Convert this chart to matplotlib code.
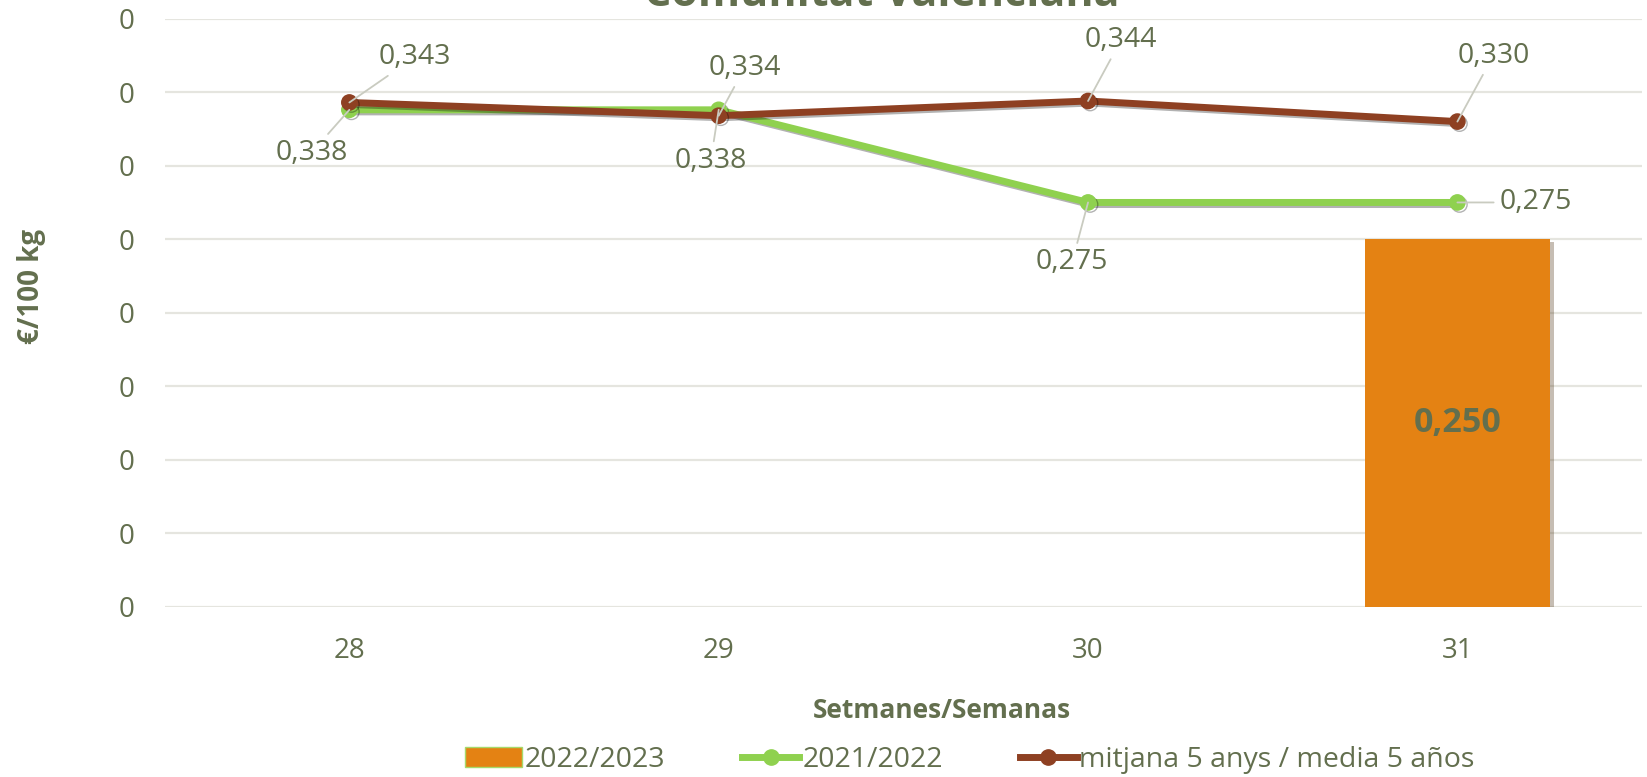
import numpy as np
import matplotlib
matplotlib.use("Agg")
import matplotlib.pyplot as plt
import matplotlib.patheffects as pe
from matplotlib.ticker import FuncFormatter, MultipleLocator
from matplotlib.lines import Line2D
from matplotlib.patches import Patch

weeks = ["28", "29", "30", "31"]
season_2223 = [np.nan, np.nan, np.nan, 0.250]
season_2122 = [0.338, 0.338, 0.275, 0.275]
avg_5y = [0.343, 0.334, 0.344, 0.330]

labels = ["2022/2023", "2021/2022", "mitjana 5 anys / media 5 años"]
title = "Comunitat Valenciana"
xlabel = "Setmanes/Semanas"
ylabel = "€/100 kg"

TXT = "#636f4e"
ORANGE = "#e48213"
GREEN = "#8fd14f"
BROWN = "#8e4022"
LEADER = "#c9cbc0"

plt.rcParams["font.family"] = ["Open Sans", "DejaVu Sans"]
plt.rcParams["xtick.labelsize"] = 20
plt.rcParams["ytick.labelsize"] = 20

fig = plt.figure(figsize=(16.47, 7.77), dpi=100)
ax = fig.add_axes([0.100, 0.219, 0.897, 0.757])
x = np.arange(len(weeks))

shadow = [pe.SimpleLineShadow(offset=(1.5, -1.5), alpha=0.3), pe.Normal()]

ax.bar(x, season_2223, width=0.5, color=ORANGE, zorder=2,
       path_effects=[pe.withSimplePatchShadow(offset=(3, -2), alpha=0.3)])
ax.plot(x, season_2122, color=GREEN, lw=5, marker="o", ms=11, zorder=3,
        path_effects=shadow)
ax.plot(x, avg_5y, color=BROWN, lw=5, marker="o", ms=11, zorder=4,
        path_effects=shadow)

# bar label
for xi, v in zip(x, season_2223):
    if not np.isnan(v):
        ax.text(xi, v / 2, f"{v:.3f}".replace(".", ","), ha="center", va="center",
                color=TXT, fontsize=24.5, fontweight="bold", zorder=5)

# line labels with leader lines (offsets in pixels)
green_off = [(-38, -43), (-8, -51), (-16, -60), (78, 0)]
brown_off = [(65, 45), (26, 48), (33, 61), (36, 66)]
for vals, offs in ((season_2122, green_off), (avg_5y, brown_off)):
    for xi, v, off in zip(x, vals, offs):
        ax.annotate(f"{v:.3f}".replace(".", ","), xy=(xi, v), xytext=off,
                    textcoords="offset pixels", ha="center", va="center",
                    color=TXT, fontsize=20.5, zorder=6,
                    arrowprops=dict(arrowstyle="-", color=LEADER, lw=1.3,
                                    shrinkA=2, shrinkB=0))

ax.set_xlim(-0.5, 3.5)
ax.set_ylim(0, 0.4)
ax.yaxis.set_major_locator(MultipleLocator(0.05))
ax.yaxis.set_major_formatter(FuncFormatter(lambda v, p: f"{v:.0f}"))
ax.set_xticks(x)
ax.set_xticklabels(weeks)
ax.grid(axis="y", color="#e5e5df", lw=1.6, zorder=0)
ax.set_axisbelow(True)
for s in ax.spines.values():
    s.set_visible(False)
ax.tick_params(axis="both", length=0, labelcolor=TXT)
ax.tick_params(axis="y", pad=22)
ax.tick_params(axis="x", pad=22)

fig.text(942 / 1647, 1 - 711 / 777, xlabel, ha="center", va="center",
         color=TXT, fontsize=19, fontweight="bold")
fig.text(32 / 1647, 1 - 286 / 777, ylabel, ha="center", va="center", rotation=90,
         color=TXT, fontsize=20, fontweight="bold")
fig.text(882 / 1647, 1 - 6 / 777, title, ha="center", va="baseline",
         color=TXT, fontsize=31, fontweight="bold")

handles = [
    Patch(facecolor=ORANGE, edgecolor="#a6d96a", lw=1),
    Line2D([], [], color=GREEN, lw=5, marker="o", ms=11),
    Line2D([], [], color=BROWN, lw=5, marker="o", ms=11),
]
fig.legend(handles, labels, loc="center", bbox_to_anchor=(970 / 1647, 1 - 760 / 777),
           ncol=3, frameon=False, handlelength=2.0, handletextpad=0.1,
           columnspacing=2.7, prop={"size": 20.5}, labelcolor=TXT)

fig.savefig("out.png", dpi=100)
